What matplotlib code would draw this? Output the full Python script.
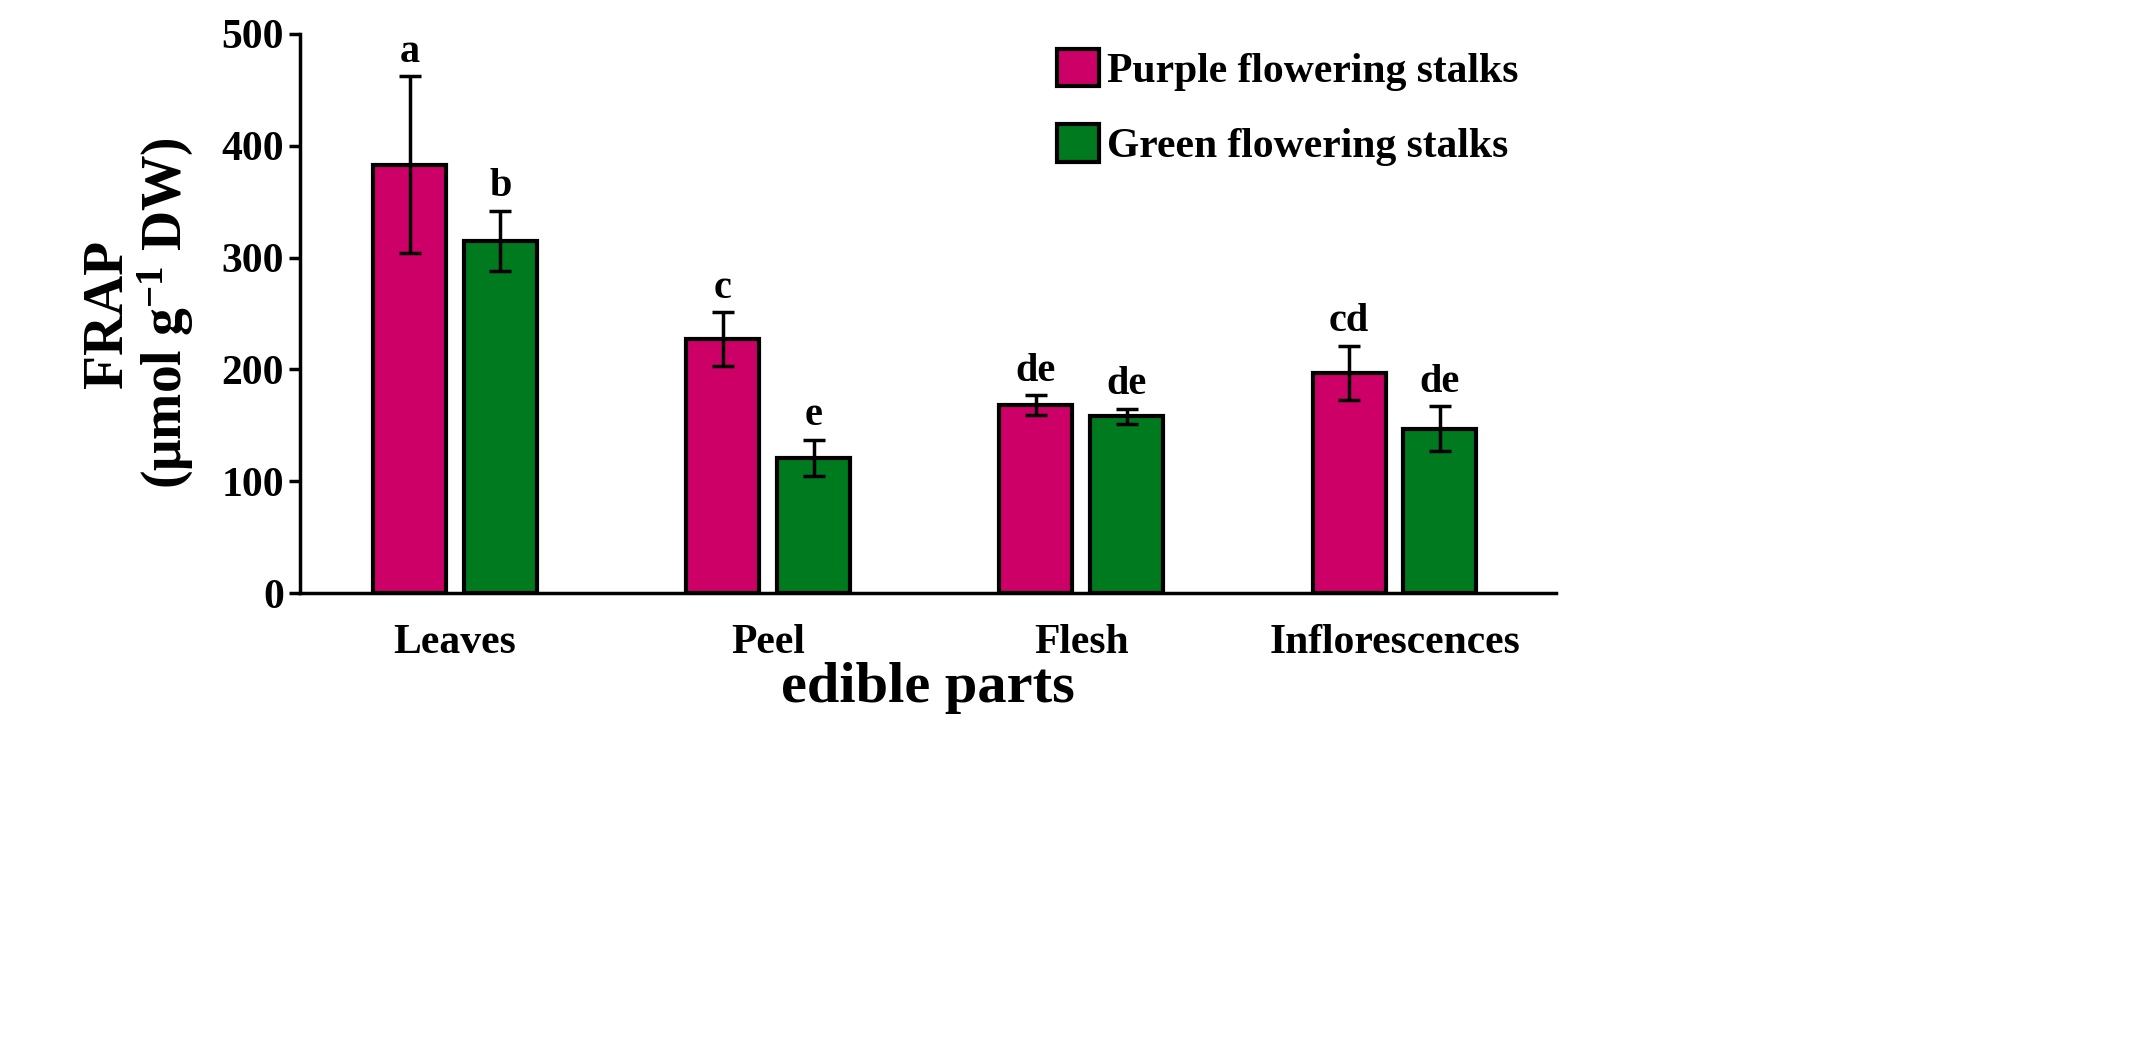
import numpy as np
import matplotlib
matplotlib.use("Agg")
import matplotlib.pyplot as plt

plt.rcParams['font.family'] = ['Liberation Serif', 'DejaVu Serif']
plt.rcParams['font.weight'] = 'bold'
plt.rcParams['axes.labelweight'] = 'bold'
plt.rcParams['mathtext.fontset'] = 'custom'
plt.rcParams['mathtext.rm'] = 'Liberation Serif:bold'
plt.rcParams['mathtext.it'] = 'Liberation Serif:bold'
plt.rcParams['mathtext.bf'] = 'Liberation Serif:bold'

parts = ['Leaves', 'Peel', 'Flesh', 'Inflorescences']
purple = [383, 227, 168, 197]
purple_err = [79, 24, 9, 24]
green = [315, 121, 158, 147]
green_err = [27, 16, 7, 20]
letters_p = ['a', 'c', 'de', 'cd']
letters_g = ['b', 'e', 'de', 'de']

fig = plt.figure(figsize=(21.36, 10.48), dpi=100)
ax = fig.add_axes([0.1404, 0.434, 0.588, 0.5336])
x = np.arange(len(parts))
w = 0.233
off = 0.145
kw = dict(edgecolor='black', linewidth=3, error_kw=dict(elinewidth=2.5, capsize=8, capthick=2.5))
ax.bar(x - off, purple, w, yerr=purple_err, color='#CC0066', label='Purple flowering stalks', **kw)
ax.bar(x + off, green, w, yerr=green_err, color='#007A1F', label='Green flowering stalks', **kw)
for i in range(len(parts)):
    ax.text(x[i] - off, purple[i] + purple_err[i] + 5, letters_p[i], ha='center', va='bottom', fontsize=29)
    ax.text(x[i] + off, green[i] + green_err[i] + 5, letters_g[i], ha='center', va='bottom', fontsize=29)

ax.set_xlim(-0.495, 3.515)
ax.set_ylim(0, 500)
ax.set_yticks(range(0, 501, 100))
ax.set_xticks(x)
ax.set_xticklabels(parts, fontsize=30)
ax.tick_params(axis='x', length=0, pad=22)
ax.tick_params(axis='y', labelsize=30, width=2.5, length=8, direction='out')
for s in ['top', 'right']:
    ax.spines[s].set_visible(False)
for s in ['left', 'bottom']:
    ax.spines[s].set_linewidth(2.5)
ax.set_xlabel('edible parts', fontsize=42, labelpad=0)
ax.set_ylabel('FRAP\n(μmol g$^{-1}$ DW)', fontsize=40, labelpad=18, linespacing=1.05)
ax.legend(loc='upper right', bbox_to_anchor=(1.0, 1.04), frameon=False, fontsize=30,
          handlelength=1.0, handleheight=1.0, handletextpad=0.2, labelspacing=0.8)

fig.savefig('out.png')
